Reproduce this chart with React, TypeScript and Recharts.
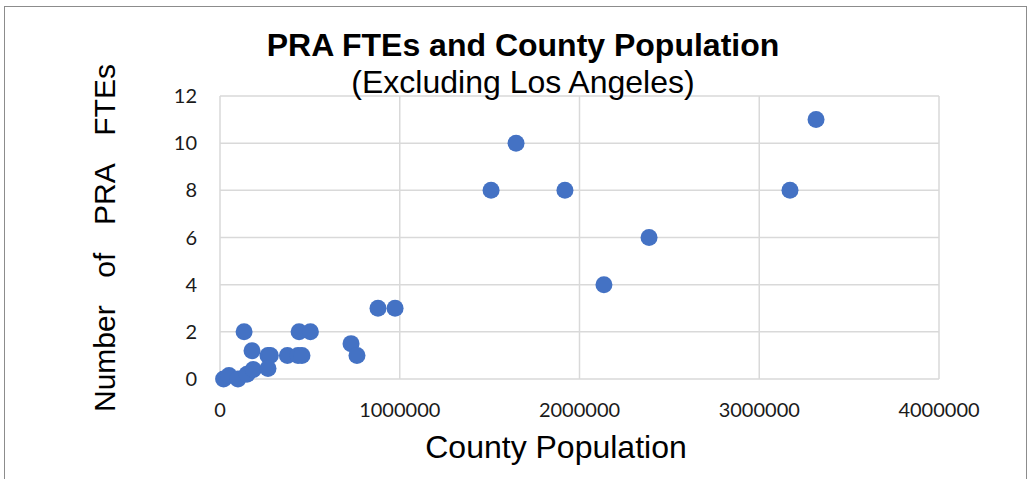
import React from 'react'
import { ScatterChart, Scatter, XAxis, YAxis, CartesianGrid } from 'recharts'

// county population vs PRA FTEs (Los Angeles excluded)
const population = [
  20000, 50000, 100000, 150000, 185000, 134000, 178000, 267000, 280000, 267000,
  375000, 434000, 456000, 440000, 503000, 729000, 762000, 879000, 974000,
  1508000, 1647000, 1919000, 2136000, 2387000, 3171000, 3316000,
]
const ftes = [
  0, 0.15, 0, 0.2, 0.4, 2, 1.2, 1, 1, 0.45,
  1, 1, 1, 2, 2, 1.5, 1, 3, 3,
  8, 10, 8, 4, 6, 8, 11,
]
const xTicks = [0, 1000000, 2000000, 3000000, 4000000]
const yTicks = [0, 2, 4, 6, 8, 10, 12]

const points = population.map((p, i) => ({ pop: p, fte: ftes[i] }))

const tickStyle = { fontSize: 20, fill: '#1a1a1a', fontFamily: 'Lato, "Open Sans", sans-serif' }

const Dot = (props: any) => <circle cx={props.cx} cy={props.cy} r={8.5} fill="#4472C4" />

export default function App() {
  return (
    <div style={{ position: 'fixed', left: 0, top: 0, width: 1031, height: 479, background: '#fff', overflow: 'hidden', fontFamily: '"Liberation Sans", Arial, sans-serif' }}>
      <div style={{ position: 'absolute', left: 4, top: 6, width: 1021, height: 490, border: '1px solid #8c8c8c' }} />
      <ScatterChart width={1031} height={479} margin={{ top: 96, right: 92, bottom: 70, left: 160 }}>
        <CartesianGrid stroke="#d9d9d9" strokeWidth={1.5} />
        <XAxis
          type="number"
          dataKey="pop"
          domain={[0, 4000000]}
          ticks={xTicks}
          axisLine={false}
          tickLine={false}
          tick={tickStyle}
          tickMargin={18}
          height={30}
        />
        <YAxis
          type="number"
          dataKey="fte"
          domain={[0, 12]}
          ticks={yTicks}
          axisLine={false}
          tickLine={false}
          tick={tickStyle}
          tickMargin={17}
          width={60}
        />
        <Scatter data={points} fill="#4472C4" isAnimationActive={false} shape={Dot} />
      </ScatterChart>
      <div style={{ position: 'absolute', left: 0, width: 1046, top: 27, textAlign: 'center', fontSize: 32, fontWeight: 'bold', color: '#000', lineHeight: '36px' }}>
        PRA FTEs and County Population
      </div>
      <div style={{ position: 'absolute', left: 0, width: 1046, top: 64, textAlign: 'center', fontSize: 32, color: '#000', lineHeight: '36px' }}>
        (Excluding Los Angeles)
      </div>
      <div
        style={{
          position: 'absolute', left: 105 - 174, top: 238 - 18, width: 348, height: 36,
          transform: 'rotate(-90deg)', display: 'flex', justifyContent: 'space-between',
          fontSize: 30, lineHeight: '36px', color: '#000',
        }}
      >
        <span>Number</span><span>of</span><span>PRA</span><span>FTEs</span>
      </div>
      <div style={{ position: 'absolute', left: 0, width: 1112, top: 429, textAlign: 'center', fontSize: 32, color: '#000', lineHeight: '36px' }}>
        County Population
      </div>
    </div>
  )
}
